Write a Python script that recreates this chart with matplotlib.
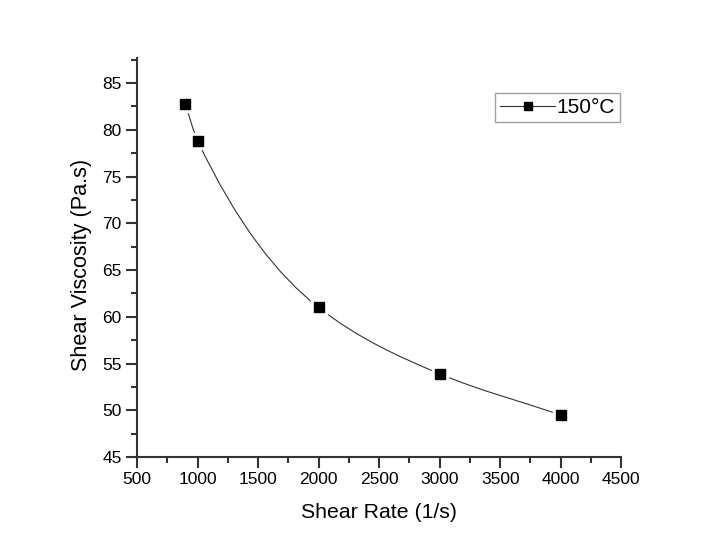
import matplotlib
matplotlib.use("Agg")
import matplotlib.pyplot as plt
import numpy as np
from matplotlib.lines import Line2D
from matplotlib.path import Path
from matplotlib.patches import PathPatch

shear_rate = [900, 1000, 2000, 3000, 4000]
viscosity = [82.75, 78.85, 61.0, 53.9, 49.5]
series_label = "150°C"

x_ticks = [500, 1000, 1500, 2000, 2500, 3000, 3500, 4000, 4500]
y_ticks = [45, 50, 55, 60, 65, 70, 75, 80, 85]

plt.rcParams["font.family"] = ["Liberation Sans", "DejaVu Sans"]


def spline_path(xs, ys):
    # Hermite segments drawn as cubic Bezier curves (smooth "spline" connection)
    xs = np.asarray(xs, float)
    ys = np.asarray(ys, float)
    n = len(xs)
    d = np.diff(ys) / np.diff(xs)
    m = np.empty(n)
    m[0], m[-1] = d[0], d[-1]
    for i in range(1, n - 1):
        h0, h1 = xs[i] - xs[i - 1], xs[i + 1] - xs[i]
        w1, w2 = 2 * h1 + h0, h1 + 2 * h0
        m[i] = (w1 + w2) / (w1 / d[i - 1] + w2 / d[i])
    verts = [(xs[0], ys[0])]
    codes = [Path.MOVETO]
    for i in range(n - 1):
        h = xs[i + 1] - xs[i]
        verts += [(xs[i] + h / 3, ys[i] + m[i] * h / 3),
                  (xs[i + 1] - h / 3, ys[i + 1] - m[i + 1] * h / 3),
                  (xs[i + 1], ys[i + 1])]
        codes += [Path.CURVE4] * 3
    return Path(verts, codes)


fig = plt.figure(figsize=(7.06, 5.46), dpi=100)
ax = fig.add_axes([0.194, 0.163, 0.686, 0.731])

ax.add_patch(PathPatch(spline_path(shear_rate, viscosity), fill=False,
                       edgecolor="#333333", linewidth=0.8, zorder=2))
ax.plot(shear_rate, viscosity, linestyle="none", marker="s", markersize=11,
        markerfacecolor="white", markeredgecolor="white", zorder=3)
ax.plot(shear_rate, viscosity, linestyle="none", marker="s", markersize=7.2,
        markerfacecolor="black", markeredgecolor="black", zorder=4)

ax.set_xlim(500, 4500)
ax.set_ylim(45, 87.7)
ax.set_xticks(x_ticks)
ax.set_yticks(y_ticks)
ax.set_xticks([t + 250 for t in x_ticks[:-1]], minor=True)
ax.set_yticks([t + 2.5 for t in y_ticks], minor=True)

for side in ("top", "right"):
    ax.spines[side].set_visible(False)
for side in ("left", "bottom"):
    ax.spines[side].set_linewidth(1.5)
    ax.spines[side].set_color("#333333")

ax.tick_params(which="major", direction="out", length=8, width=1.5,
               color="#333333", labelsize=12.5, pad=3)
ax.tick_params(which="minor", direction="out", length=4.5, width=1.5,
               color="#333333")

ax.set_xlabel("Shear Rate (1/s)", fontsize=15.3, labelpad=11)
ax.set_ylabel("Shear Viscosity (Pa.s)", fontsize=15.6)
ax.yaxis.set_label_coords(-0.092, 0.48)

handle = Line2D([], [], color="#333333", linewidth=0.8, marker="s",
                markersize=6, markerfacecolor="black", markeredgecolor="black")
leg = ax.legend([handle], [series_label], loc="upper right",
                bbox_to_anchor=(0.998, 0.913), fontsize=15, frameon=True,
                fancybox=False, edgecolor="#888888", handlelength=2.6,
                handletextpad=0.1, borderpad=0.25, borderaxespad=0)
leg.get_frame().set_linewidth(1.0)

fig.savefig("out.png", dpi=100)
